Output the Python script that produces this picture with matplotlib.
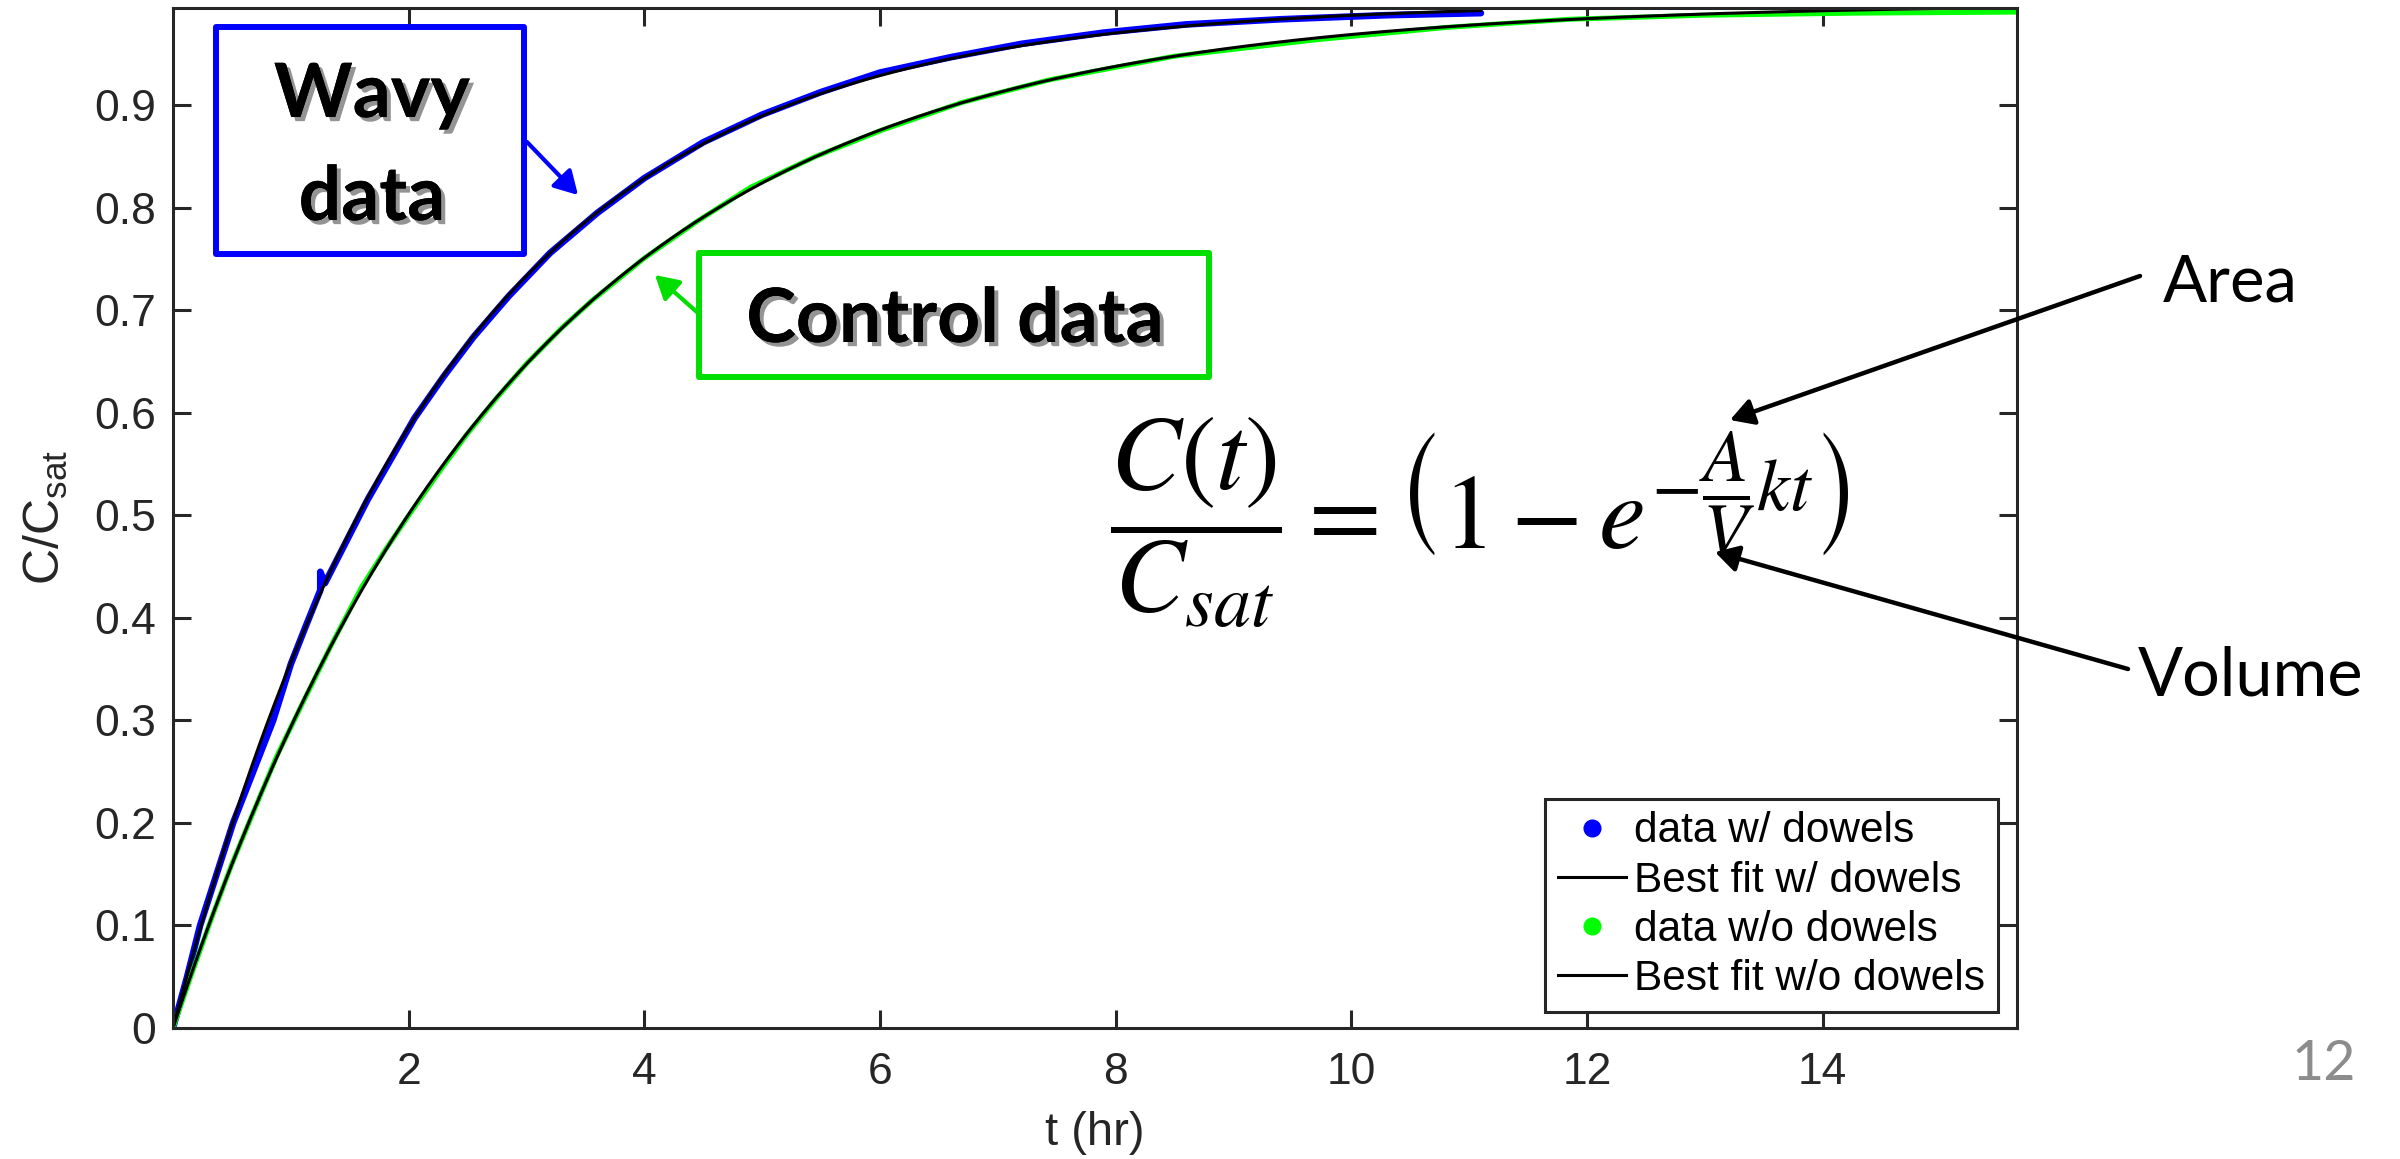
import numpy as np
import matplotlib.pyplot as plt
import matplotlib.patheffects as pe
from matplotlib.lines import Line2D
from matplotlib.patches import Rectangle, FancyArrowPatch

plt.rcParams['font.family'] = ['Liberation Sans', 'DejaVu Sans']
plt.rcParams['mathtext.fontset'] = 'custom'
plt.rcParams['mathtext.rm'] = 'Liberation Sans'
plt.rcParams['mathtext.it'] = 'Liberation Sans:italic'

# C/Csat vs time, tank with dowels (wavy surface)
t_wavy = [0, 0.12, 0.23, 0.37, 0.51, 0.68, 0.85, 1.0, 1.12, 1.25, 1.25, 1.29, 1.45,
          1.65, 1.85, 2.05, 2.3, 2.55, 2.85, 3.2, 3.6, 4.0, 4.5, 5.0, 5.5, 6.0,
          6.6, 7.2, 7.9, 8.6, 9.4, 10.3, 11.1]
c_wavy = [0, 0.05, 0.10, 0.15, 0.20, 0.25, 0.30, 0.355, 0.39, 0.427, 0.445, 0.434,
          0.47, 0.515, 0.555, 0.595, 0.636, 0.674, 0.714, 0.756, 0.795, 0.829,
          0.864, 0.891, 0.913, 0.932, 0.947, 0.960, 0.971, 0.979, 0.984, 0.988, 0.990]

# control run, no dowels
t_ctrl = [0, 0.15, 0.33, 0.5, 0.68, 0.88, 1.10, 1.35, 1.6, 1.8, 2.0, 2.25, 2.5,
          2.75, 3.0, 3.3, 3.56, 4.0, 4.45, 4.9, 5.45, 6.02, 6.7, 7.44, 8.5, 9.7,
          10.8, 11.85, 13.0, 14.3, 15.65]
c_ctrl = [0, 0.05, 0.108, 0.16, 0.21, 0.265, 0.317, 0.375, 0.43, 0.466, 0.50, 0.541,
          0.58, 0.615, 0.648, 0.683, 0.71, 0.751, 0.787, 0.82, 0.85, 0.876, 0.903,
          0.925, 0.948, 0.964, 0.976, 0.984, 0.988, 0.990, 0.991]

xticks = [2, 4, 6, 8, 10, 12, 14]
yticks = [0, 0.1, 0.2, 0.3, 0.4, 0.5, 0.6, 0.7, 0.8, 0.9]
legend_labels = ['data w/ dowels', 'Best fit w/ dowels',
                 'data w/o dowels', 'Best fit w/o dowels']

W, H = 2400, 1159
DARK = '#262626'
BLUE = (0, 0, 1)
GREEN = (0, 1, 0)
BOX_GREEN = (0, 0.87, 0)


def fxy(x, y):
    # pixel position (from top-left) -> figure fraction
    return (x / W, 1 - y / H)


def fit_rate(t, c):
    # least squares k for c = 1 - exp(-k t)
    t = np.asarray(t)
    c = np.asarray(c)
    ks = np.linspace(0.05, 1.5, 14501)
    sse = [np.sum((c - (1 - np.exp(-k * t))) ** 2) for k in ks]
    return ks[int(np.argmin(sse))]


k_wavy = fit_rate(t_wavy, c_wavy)
k_ctrl = fit_rate(t_ctrl, c_ctrl)
tf_wavy = np.linspace(0, max(t_wavy), 500)
tf_ctrl = np.linspace(0, max(t_ctrl), 500)

fig = plt.figure(figsize=(W / 100, H / 100), dpi=100)
ax = fig.add_axes([173 / W, 1 - 1028 / H, (2017 - 173) / W, (1028 - 8) / H])

ax.plot(t_wavy, c_wavy, color=BLUE, lw=4.8, solid_capstyle='round', solid_joinstyle='round')
ax.plot(t_ctrl, c_ctrl, color=GREEN, lw=3.6, solid_capstyle='round', solid_joinstyle='round')
ax.plot(tf_wavy, 1 - np.exp(-k_wavy * tf_wavy), color='k', lw=2.2)
ax.plot(tf_ctrl, 1 - np.exp(-k_ctrl * tf_ctrl), color='k', lw=2.2)

ax.set_xlim(0, 15.65)
ax.set_ylim(0, 0.995)
ax.set_xticks(xticks)
ax.set_yticks(yticks)
ax.set_yticklabels([f'{v:g}' for v in yticks])
ax.tick_params(direction='in', length=13, width=2.2, color=DARK, labelcolor=DARK,
               labelsize=32, top=True, right=True)
ax.tick_params(axis='x', pad=17)
ax.tick_params(axis='y', pad=12)
for sp in ax.spines.values():
    sp.set_color(DARK)
    sp.set_linewidth(2.2)

ax.set_xlabel('t (hr)', fontsize=34, color=DARK)
ax.xaxis.set_label_coords(0.5, -0.103)
ax.xaxis.label.set_va('center')
ax.set_ylabel(r'C/C$_{\mathrm{sat}}$', fontsize=36, color=DARK)
ax.yaxis.set_label_coords(-0.069, 0.5)
ax.yaxis.label.set_va('center')

handles = [Line2D([], [], ls='none', marker='o', ms=12, color=BLUE),
           Line2D([], [], color='k', lw=2.2),
           Line2D([], [], ls='none', marker='o', ms=12, color=GREEN),
           Line2D([], [], color='k', lw=2.2)]
leg = ax.legend(handles, legend_labels, loc='lower right',
                bbox_to_anchor=fxy(1998, 1012), bbox_transform=fig.transFigure,
                borderaxespad=0, fontsize=30.5, fancybox=False, framealpha=1,
                edgecolor=DARK, handlelength=1.6, handletextpad=0.2,
                labelspacing=0.22, borderpad=0.3)
leg.get_frame().set_linewidth(2.2)

# callout boxes
shadow = [pe.withSimplePatchShadow(offset=(3, -3), shadow_rgbFace=(0.3, 0.3, 0.3),
                                   alpha=0.6), pe.Normal()]
fig.patches.append(Rectangle(fxy(216, 254), (524 - 216) / W, (254 - 27) / H,
                             transform=fig.transFigure, fill=False, ec=BLUE, lw=4.3,
                             joinstyle='round'))
fig.patches.append(Rectangle(fxy(699, 377), (1209 - 699) / W, (377 - 253) / H,
                             transform=fig.transFigure, fill=False, ec=BOX_GREEN, lw=4.3,
                             joinstyle='round'))
for txt, (x, y) in [('Wavy', (372, 117)), ('data', (372, 220)),
                    ('Control data', (955, 342))]:
    fig.text(*fxy(x, y), txt, family=['Lato', 'DejaVu Sans'], weight='bold',
             fontsize=54, ha='center', va='baseline', path_effects=shadow)


def arrow(p0, p1, color, lw=3.0, hl=0.7, hw=0.4):
    a = FancyArrowPatch(fxy(*p0), fxy(*p1), transform=fig.transFigure,
                        arrowstyle=f'-|>,head_length={hl},head_width={hw}',
                        mutation_scale=20, lw=lw, color=color,
                        shrinkA=0, shrinkB=0)
    fig.patches.append(a)


arrow((527, 142), (578, 195), BLUE)
arrow((698, 313), (655, 275), BOX_GREEN)
arrow((2140, 276), (1730, 420), 'k', lw=3.2)
arrow((2128, 669), (1715, 552), 'k', lw=3.2)

fig.text(*fxy(1480, 522),
         r'$\dfrac{C(t)}{C_{sat}} = \left(1 - e^{-\dfrac{A}{V}kt}\right)$',
         math_fontfamily='stix', fontsize=76, ha='center', va='center')

fig.text(*fxy(2163, 301), 'Area', family=['Lato', 'DejaVu Sans'], fontsize=47,
         ha='left', va='baseline')
fig.text(*fxy(2138, 696), 'Volume', family=['Lato', 'DejaVu Sans'], fontsize=48,
         ha='left', va='baseline')
fig.text(*fxy(2324, 1080), '12', family=['Lato', 'DejaVu Sans'], fontsize=40,
         color=(0.55, 0.55, 0.55), ha='center', va='baseline')

fig.savefig('out.png', dpi=100, facecolor='white')
